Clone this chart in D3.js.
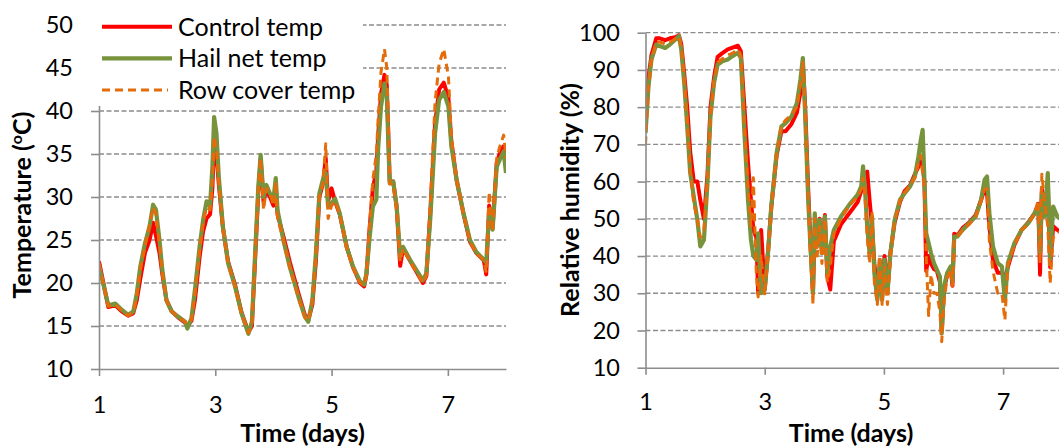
<!DOCTYPE html>
<html>
<head>
<meta charset="utf-8">
<script src="https://cdn.jsdelivr.net/npm/d3@7"></script>
<style>
  body { margin: 0; background: #fff; }
  svg { display: block; font-family: Lato, "Open Sans", sans-serif; }
</style>
</head>
<body>
<svg width="1059" height="448"></svg>
<script>
//////////// DATA ////////////

// temperature panel (time in days)
const tempTimes = [
  1.00, 1.07, 1.16, 1.28, 1.39, 1.50, 1.59, 1.65, 1.71, 1.79,
  1.87, 1.93, 1.98, 2.04, 2.09, 2.16, 2.25, 2.36, 2.48, 2.52,
  2.59, 2.65, 2.73, 2.79, 2.85, 2.91, 2.95, 2.98, 3.02, 3.06,
  3.13, 3.22, 3.34, 3.45, 3.57, 3.63, 3.68, 3.74, 3.78, 3.83,
  3.88, 3.94, 4.00, 4.04, 4.07, 4.17, 4.28, 4.43, 4.54, 4.60,
  4.67, 4.73, 4.79, 4.85, 4.90, 4.94, 5.00, 5.06, 5.14, 5.26,
  5.37, 5.49, 5.56, 5.60, 5.65, 5.71, 5.77, 5.80, 5.85, 5.91,
  5.95, 5.98, 6.00, 6.06, 6.12, 6.18, 6.23, 6.35, 6.46, 6.57,
  6.63, 6.70, 6.78, 6.85, 6.93, 7.01, 7.06, 7.15, 7.27, 7.38,
  7.49, 7.62, 7.66, 7.71, 7.77, 7.84, 7.89, 7.96, 8.00,
];
const controlTemp = [
  22.5, 20.2, 17.2, 17.4, 16.7, 16.2, 16.5, 18.0, 20.5, 23.5,
  25.0, 27.0, 25.5, 23.5, 21.0, 18.0, 16.7, 16.0, 15.4, 15.0,
  15.6, 18.0, 23.0, 26.0, 27.5, 28.0, 31.0, 36.2, 35.0, 31.5,
  26.5, 22.5, 19.8, 16.6, 14.3, 15.0, 22.0, 30.5, 34.5, 29.5,
  31.0, 30.0, 29.0, 31.5, 28.0, 25.5, 22.5, 18.8, 16.3, 15.7,
  17.5, 22.5, 30.0, 31.5, 34.5, 29.5, 31.0, 29.5, 28.0, 24.2,
  21.8, 20.0, 19.6, 21.0, 26.0, 31.0, 33.0, 37.0, 42.0, 44.2,
  43.0, 36.5, 31.8, 31.8, 28.8, 22.0, 24.0, 22.6, 21.3, 20.0,
  20.8, 28.5, 38.5, 42.5, 43.3, 41.5, 36.5, 32.0, 28.0, 24.8,
  23.5, 22.6, 21.0, 29.0, 26.5, 34.0, 35.0, 35.9, 33.5,
];
const hailNetTemp = [
  22.0, 20.0, 17.4, 17.6, 16.9, 16.3, 16.7, 18.8, 21.9, 24.6,
  26.6, 29.1, 28.5, 25.0, 21.5, 18.0, 16.7, 16.1, 15.5, 14.7,
  15.9, 19.2, 24.2, 27.3, 29.5, 28.9, 33.5, 39.3, 37.4, 32.4,
  26.6, 22.3, 19.6, 16.5, 14.1, 15.5, 22.7, 31.2, 34.9, 30.0,
  31.4, 30.4, 29.7, 32.2, 28.5, 25.0, 21.9, 18.4, 16.1, 15.5,
  18.0, 23.4, 30.4, 32.0, 32.8, 28.9, 29.3, 29.8, 28.1, 24.2,
  21.9, 20.2, 19.8, 21.1, 25.0, 28.9, 29.7, 35.5, 40.5, 43.2,
  41.7, 35.5, 31.6, 31.8, 28.9, 23.1, 24.2, 22.7, 21.5, 20.3,
  21.1, 27.7, 37.4, 41.3, 42.2, 40.5, 35.9, 32.0, 28.1, 25.0,
  23.6, 22.7, 22.4, 28.1, 26.2, 33.5, 34.3, 35.3, 32.8,
];
const rowCoverTemp = [
  22.3, 20.0, 17.3, 17.5, 16.8, 16.2, 16.6, 18.6, 21.6, 24.3,
  26.8, 28.8, 28.0, 24.5, 21.3, 18.0, 16.7, 16.1, 15.5, 15.2,
  15.8, 18.8, 23.8, 27.0, 28.8, 28.5, 32.0, 37.0, 35.5, 31.8,
  26.4, 22.2, 19.5, 16.4, 14.2, 15.2, 22.5, 31.0, 34.5, 28.5,
  31.0, 30.5, 29.0, 31.8, 27.5, 25.0, 21.8, 18.3, 16.0, 15.6,
  18.0, 23.2, 30.2, 31.5, 36.2, 27.5, 29.0, 29.5, 28.0, 24.0,
  21.8, 20.0, 19.7, 21.0, 26.5, 32.0, 35.0, 39.0, 44.5, 47.2,
  45.0, 38.0, 31.5, 31.5, 28.5, 22.5, 24.0, 22.5, 21.3, 20.0,
  20.8, 29.5, 41.0, 45.5, 47.2, 44.0, 37.0, 32.0, 28.0, 24.8,
  23.5, 22.6, 21.2, 30.6, 26.0, 34.5, 35.8, 37.2, 34.5,
];

// relative humidity panel (time in days)
const rhTimes = [
  1.00, 1.05, 1.10, 1.18, 1.24, 1.33, 1.41, 1.50, 1.56, 1.60,
  1.65, 1.70, 1.75, 1.81, 1.87, 1.92, 1.98, 2.04, 2.09, 2.15,
  2.21, 2.29, 2.38, 2.46, 2.55, 2.60, 2.66, 2.72, 2.77, 2.81,
  2.86, 2.89, 2.94, 3.00, 3.06, 3.11, 3.20, 3.28, 3.35, 3.45,
  3.54, 3.60, 3.64, 3.68, 3.73, 3.77, 3.81, 3.84, 3.88, 3.92,
  3.96, 4.01, 4.05, 4.10, 4.16, 4.28, 4.42, 4.56, 4.62, 4.65,
  4.68, 4.72, 4.76, 4.80, 4.84, 4.89, 4.93, 4.97, 5.01, 5.06,
  5.11, 5.18, 5.27, 5.35, 5.44, 5.52, 5.58, 5.62, 5.65, 5.68,
  5.71, 5.75, 5.79, 5.84, 5.89, 5.94, 5.97, 6.01, 6.06, 6.12,
  6.15, 6.18, 6.23, 6.32, 6.43, 6.54, 6.63, 6.69, 6.73, 6.77,
  6.83, 6.91, 6.98, 7.03, 7.08, 7.19, 7.31, 7.42, 7.53, 7.59,
  7.62, 7.65, 7.70, 7.75, 7.79, 7.84, 7.91, 8.00,
];
const controlRH = [
  80.0, 88.0, 94.0, 98.5, 98.5, 98.0, 98.5, 98.8, 99.3, 97.0,
  89.0, 80.0, 68.0, 60.0, 60.0, 55.0, 50.0, 62.0, 80.0, 88.0,
  93.5, 94.5, 95.5, 96.0, 96.5, 95.0, 80.0, 65.0, 55.0, 47.0,
  45.0, 30.0, 47.0, 31.0, 42.0, 53.0, 67.0, 73.5, 73.5, 75.5,
  78.5, 84.0, 92.0, 80.0, 58.0, 43.0, 30.0, 48.0, 44.0, 50.0,
  42.0, 51.0, 34.5, 31.0, 44.0, 48.5, 51.5, 54.5, 57.5, 60.0,
  62.0, 62.7, 55.0, 48.0, 38.0, 30.0, 37.0, 29.0, 40.0, 31.0,
  41.0, 49.0, 54.5, 57.5, 59.0, 62.0, 64.0, 66.0, 64.0, 60.0,
  36.0, 40.0, 38.0, 36.5, 36.0, 33.0, 20.0, 31.0, 35.0, 37.0,
  32.0, 46.0, 45.5, 47.5, 49.0, 51.0, 55.0, 58.0, 57.0, 48.0,
  39.0, 35.5, 35.5, 34.0, 37.0, 43.0, 47.0, 49.0, 51.5, 54.0,
  35.0, 58.0, 52.0, 60.0, 37.0, 48.0, 47.0, 46.0,
];
const hailNetRH = [
  73.0, 85.6, 92.8, 96.8, 96.4, 95.9, 96.8, 98.2, 99.1, 95.5,
  86.5, 74.8, 62.3, 56.0, 49.7, 42.6, 44.3, 59.6, 77.5, 86.5,
  91.4, 92.3, 92.8, 93.7, 94.6, 93.2, 73.0, 55.1, 44.3, 40.0,
  39.0, 46.1, 30.0, 30.9, 41.7, 53.3, 67.7, 74.8, 75.7, 77.5,
  81.1, 87.4, 93.2, 77.5, 55.1, 41.7, 30.0, 51.5, 42.6, 49.7,
  40.8, 50.6, 35.4, 42.6, 47.0, 50.6, 53.8, 56.5, 58.7, 64.1,
  58.7, 47.9, 40.8, 50.6, 35.4, 28.2, 39.0, 28.2, 39.0, 30.0,
  40.8, 49.7, 55.1, 56.9, 58.7, 61.4, 66.8, 71.3, 73.9, 60.5,
  46.1, 43.5, 40.8, 38.1, 36.3, 34.5, 19.2, 31.8, 35.4, 37.2,
  33.1, 45.2, 45.2, 47.0, 48.8, 50.6, 55.1, 60.5, 61.4, 51.5,
  42.6, 38.1, 37.2, 28.0, 38.1, 43.5, 47.0, 48.8, 51.5, 53.3,
  40.8, 56.9, 50.6, 62.3, 39.0, 53.3, 50.6, 49.5,
];
const rowCoverRH = [
  70.0, 85.0, 92.5, 97.5, 97.5, 97.0, 97.5, 98.3, 99.0, 96.0,
  87.0, 76.0, 63.0, 54.0, 50.0, 45.0, 47.0, 60.0, 77.0, 87.0,
  92.0, 93.0, 94.0, 94.5, 95.5, 94.0, 75.0, 58.0, 48.0, 61.0,
  35.0, 29.0, 40.0, 29.5, 41.5, 53.0, 67.5, 75.0, 76.5, 78.0,
  80.0, 86.0, 92.0, 78.0, 55.0, 40.0, 27.0, 50.0, 40.0, 48.0,
  38.0, 50.0, 33.0, 37.0, 46.0, 50.0, 53.5, 56.0, 58.0, 61.0,
  57.0, 45.0, 38.0, 52.0, 33.0, 27.0, 40.0, 27.0, 37.0, 27.0,
  40.0, 49.5, 55.0, 57.0, 59.0, 61.0, 65.0, 67.0, 62.0, 58.0,
  40.0, 24.0, 35.0, 30.0, 30.0, 25.0, 17.0, 28.0, 34.0, 36.5,
  32.0, 44.0, 45.0, 47.0, 48.5, 50.5, 55.0, 58.0, 58.0, 44.0,
  36.0, 30.0, 30.0, 22.8, 37.5, 43.0, 47.0, 48.5, 51.5, 55.0,
  38.0, 62.0, 54.0, 48.0, 32.7, 45.0, 46.0, 47.0,
];

// ticks and labels
const timeTicks = [1, 3, 5, 7];
const tempTicks = [10, 15, 20, 25, 30, 35, 40, 45, 50];
const rhTicks = [10, 20, 30, 40, 50, 60, 70, 80, 90, 100];
const seriesNames = ["Control temp", "Hail net temp", "Row cover temp"];

//////////// STYLE ////////////

const svg = d3.select("svg");
const TICK_FONT = 23.5;
const LEGEND_FONT = 25;
const TITLE_FONT = 25;
const GRID_COLOR = "#8c8c8c";
const AXIS_COLOR = "#8c8c8c";

// line styles: control, hail net, row cover (drawn in this order)
const seriesStyles = [
  { color: "#ff0000", width: 4, dash: null },
  { color: "#77933c", width: 4.2, dash: null },
  { color: "#e46c0a", width: 3, dash: "8,5" },
];

//////////// PANELS ////////////

function drawPanel(cfg) {
  const x = d3.scaleLinear().domain([1, 8]).range(cfg.xRange);
  const y = d3.scaleLinear().domain(cfg.yDomain).range(cfg.yRange);
  const g = svg.append("g");

  // dashed horizontal gridlines (not on the x axis itself)
  g.append("g")
    .selectAll("line")
    .data(cfg.yTicks.filter((d) => d > cfg.yDomain[0]))
    .join("line")
    .attr("x1", cfg.xRange[0])
    .attr("x2", cfg.xRange[1])
    .attr("y1", (d) => y(d))
    .attr("y2", (d) => y(d))
    .attr("stroke", GRID_COLOR)
    .attr("stroke-width", 1.3)
    .attr("stroke-dasharray", "5,2.5");

  // clip series to plot area
  g.append("clipPath")
    .attr("id", cfg.id + "-clip")
    .append("rect")
    .attr("x", cfg.xRange[0])
    .attr("y", 0)
    .attr("width", cfg.xRange[1] - cfg.xRange[0])
    .attr("height", cfg.yRange[0]);

  const line = d3
    .line()
    .x((d, i) => x(cfg.times[i]))
    .y((d) => y(d));

  g.append("g")
    .attr("clip-path", `url(#${cfg.id}-clip)`)
    .selectAll("path")
    .data(cfg.series)
    .join("path")
    .attr("d", (d) => line(d))
    .attr("fill", "none")
    .attr("stroke", (d, i) => seriesStyles[i].color)
    .attr("stroke-width", (d, i) => seriesStyles[i].width)
    .attr("stroke-dasharray", (d, i) => seriesStyles[i].dash)
    .attr("stroke-linejoin", "round");

  // y axis
  const yAxis = g
    .append("g")
    .attr("transform", `translate(${cfg.xRange[0]},0)`)
    .call(
      d3.axisLeft(y).tickValues(cfg.yTicks).tickSize(8).tickSizeOuter(0).tickPadding(cfg.yPad),
    );

  // x axis
  const xAxis = g
    .append("g")
    .attr("transform", `translate(0,${cfg.yRange[0]})`)
    .call(
      d3
        .axisBottom(x)
        .tickValues(timeTicks)
        .tickFormat(d3.format("d"))
        .tickSize(7)
        .tickSizeOuter(0)
        .tickPadding(cfg.xPad),
    );

  [yAxis, xAxis].forEach((a) => {
    a.select(".domain").attr("stroke", AXIS_COLOR).attr("stroke-width", 1.6);
    a.selectAll(".tick line").attr("stroke", AXIS_COLOR).attr("stroke-width", 1.6);
    a.selectAll(".tick text")
      .attr("fill", "#000")
      .style("font-size", TICK_FONT + "px")
      .style("font-family", "Lato, sans-serif");
  });

  // axis titles
  g.append("text")
    .attr("x", (cfg.xRange[0] + cfg.xRange[1]) / 2 + cfg.xTitleShift)
    .attr("y", 442)
    .attr("text-anchor", "middle")
    .style("font-size", TITLE_FONT + "px")
    .style("font-weight", "bold")
    .text("Time (days)");

  const yTitle = g
    .append("text")
    .attr("transform", `translate(${cfg.yTitle[0]},${cfg.yTitle[1]}) rotate(-90)`)
    .attr("text-anchor", "middle")
    .style("font-size", TITLE_FONT + "px")
    .style("font-weight", "bold");
  cfg.yTitleParts.forEach(([txt, sup]) => {
    yTitle
      .append("tspan")
      .attr("baseline-shift", sup ? "super" : null)
      .style("font-size", sup ? "16px" : null)
      .text(txt);
  });
}

drawPanel({
  id: "temp",
  xRange: [99, 506],
  yDomain: [10, 50],
  yRange: [369, 25],
  yTicks: tempTicks,
  times: tempTimes,
  series: [controlTemp, hailNetTemp, rowCoverTemp],
  yPad: 18,
  xPad: 20,
  xTitleShift: 0,
  yTitle: [31, 205],
  yTitleParts: [["Temperature (", false], ["o", true], ["C)", false]],
});

drawPanel({
  id: "rh",
  xRange: [645.5, 1062.7],
  yDomain: [10, 100],
  yRange: [367.7, 32.7],
  yTicks: rhTicks,
  times: rhTimes,
  series: [controlRH, hailNetRH, rowCoverRH],
  yPad: 17.5,
  xPad: 19,
  xTitleShift: -3,
  yTitle: [579, 200],
  yTitleParts: [["Relative humidity (%)", false]],
});

//////////// LEGEND ////////////

// legend sits on top of the temperature plot with a white background
const legend = svg.append("g");
legend
  .append("rect")
  .attr("x", 90)
  .attr("y", 0)
  .attr("width", 273)
  .attr("height", 106)
  .attr("fill", "#fff");

const legendRows = legend
  .selectAll("g")
  .data(seriesNames)
  .join("g")
  .attr("transform", (d, i) => `translate(102,${26.7 + i * 31.7})`);

legendRows
  .append("line")
  .attr("x1", 0)
  .attr("x2", (d, i) => (i === 2 ? 66 : 70))
  .attr("stroke", (d, i) => seriesStyles[i].color)
  .attr("stroke-width", (d, i) => seriesStyles[i].width)
  .attr("stroke-dasharray", (d, i) => seriesStyles[i].dash);

legendRows
  .append("text")
  .attr("x", 76)
  .attr("y", 9)
  .style("font-size", LEGEND_FONT + "px")
  .text((d) => d);
</script>
</body>
</html>
